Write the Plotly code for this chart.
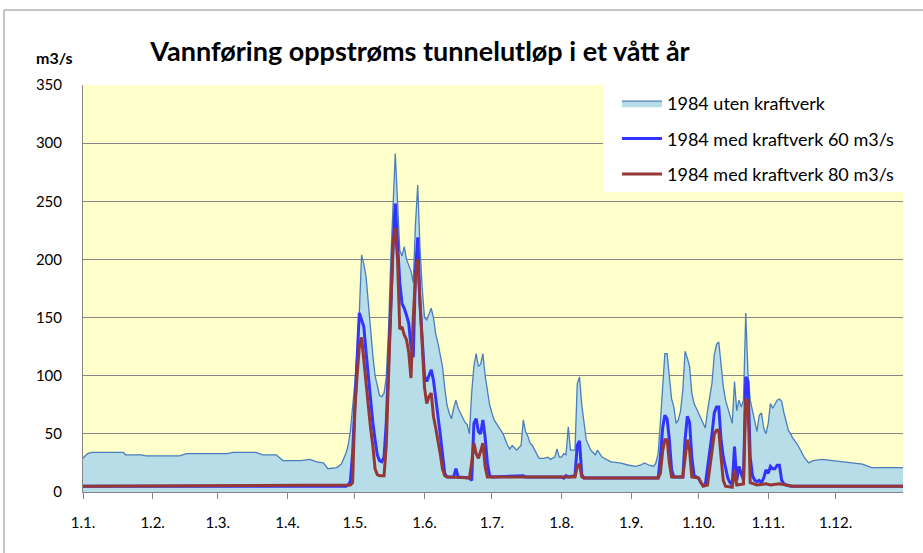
import pandas as pd
import plotly.graph_objects as go

# day of year (0 = 1 Jan 1984) and flow in m3/s
uten_dag = [0, 2, 4, 18, 19, 26, 28, 43, 46, 64, 67, 77, 80, 86, 89, 97, 101, 104, 107, 109,
            113, 115, 117, 118, 119, 120, 121, 122, 123, 124, 125, 126, 127, 128, 129, 130, 131, 132, 133, 134,
            135, 136, 137, 138, 139, 140, 141, 142, 143, 144, 145, 146, 147, 148, 149, 150, 151, 152, 153, 154,
            155, 156, 157, 158, 159, 160, 161, 162, 163, 164, 165, 166, 167, 168, 169, 170, 171, 172, 173, 174,
            175, 176, 177, 178, 179, 180, 181, 182, 183, 184, 185, 186, 187, 188, 189, 190, 191, 192, 193, 194,
            195, 196, 197, 198, 199, 200, 201, 202, 203, 205, 207, 208, 210, 211, 212, 213, 214, 215, 216, 217,
            219, 220, 221, 222, 223, 224, 226, 227, 228, 229, 230, 231, 235, 239, 243, 246, 248, 250, 252, 254,
            255, 256, 257, 258, 259, 260, 261, 262, 263, 264, 265, 266, 267, 268, 269, 270, 271, 272, 273, 274,
            275, 276, 277, 278, 279, 280, 281, 282, 283, 284, 285, 286, 287, 288, 289, 290, 291, 292, 293, 294,
            295, 296, 297, 298, 299, 300, 301, 302, 303, 304, 305, 306, 307, 308, 309, 310, 311, 312, 313, 314,
            315, 316, 318, 320, 321, 323, 325, 329, 333, 338, 342, 347, 351, 365]
uten_kraftverk = [29, 33, 34, 34, 32, 32, 31, 31, 33, 33, 34, 34, 32, 32, 27, 27, 28, 26, 25, 20,
                  21, 24, 33, 40, 52, 70, 94, 120, 154, 204, 196, 185, 160, 140, 118, 100, 90, 83, 82, 85,
                  99, 140, 200, 250, 291, 250, 208, 203, 211, 200, 195, 190, 180, 231, 264, 210, 175, 150, 148, 153,
                  158, 150, 136, 128, 118, 108, 90, 75, 68, 63, 72, 79, 72, 68, 63, 60, 58, 50, 85, 108,
                  119, 108, 110, 119, 100, 88, 75, 68, 62, 59, 56, 53, 50, 45, 40, 37, 40, 38, 36, 38,
                  40, 62, 52, 48, 42, 40, 36, 32, 29, 29, 30, 28, 30, 37, 30, 30, 33, 32, 56, 36,
                  36, 93, 99, 75, 60, 45, 36, 34, 32, 36, 33, 30, 26, 25, 23, 22, 23, 25, 23, 22,
                  25, 33, 60, 88, 119, 119, 96, 80, 73, 59, 62, 70, 88, 121, 115, 108, 85, 76, 72, 68,
                  63, 60, 55, 70, 82, 94, 118, 127, 129, 110, 91, 79, 72, 65, 59, 95, 70, 79, 73, 79,
                  154, 102, 79, 70, 62, 52, 66, 68, 55, 50, 59, 76, 72, 75, 79, 80, 78, 68, 59, 53,
                  50, 46, 41, 33, 30, 25, 27, 28, 27, 26, 25, 24, 21, 21]

med60_dag = [0, 117, 118, 119, 120, 121, 122, 123, 124, 125, 126, 127, 128, 129, 130, 131, 132, 133, 134, 135,
             136, 137, 138, 139, 140, 141, 142, 143, 144, 145, 146, 147, 148, 149, 150, 151, 152, 153, 154, 155,
             156, 157, 158, 159, 160, 161, 162, 165, 166, 167, 172, 173, 174, 175, 176, 177, 178, 179, 180, 181,
             182, 196, 197, 213, 214, 215, 216, 219, 220, 221, 222, 223, 256, 257, 258, 259, 260, 261, 262, 263,
             267, 268, 269, 270, 271, 272, 273, 274, 275, 276, 277, 278, 279, 280, 281, 282, 283, 284, 285, 286,
             287, 288, 289, 290, 291, 292, 293, 294, 295, 296, 297, 298, 299, 300, 301, 302, 303, 304, 305, 306,
             307, 308, 309, 310, 311, 312, 313, 315, 365]
med_kraftverk_60 = [5, 5, 6, 9, 33, 70, 105, 154, 148, 142, 120, 100, 76, 60, 45, 32, 27, 26, 30, 60,
                    110, 162, 210, 248, 215, 180, 162, 158, 152, 145, 125, 116, 190, 219, 162, 125, 100, 95, 100, 105,
                    96, 82, 65, 50, 33, 16, 13, 13, 20, 13, 12, 10, 59, 63, 52, 50, 62, 47, 25, 14,
                    13, 14, 13, 13, 12, 14, 13, 14, 40, 44, 15, 12, 12, 30, 55, 66, 63, 45, 19, 13,
                    13, 45, 65, 60, 30, 14, 13, 12, 8, 6, 6, 20, 35, 50, 68, 73, 73, 45, 30, 22,
                    12, 8, 6, 39, 10, 22, 16, 10, 99, 95, 30, 14, 10, 9, 10, 8, 12, 19, 16, 22,
                    20, 20, 23, 23, 10, 7, 6, 5, 5]

med80_dag = [0, 119, 120, 121, 122, 123, 124, 125, 126, 127, 128, 129, 130, 131, 132, 134, 135, 136, 137, 138,
             139, 140, 141, 142, 143, 144, 145, 146, 147, 148, 149, 150, 151, 152, 153, 154, 155, 156, 157, 158,
             159, 160, 161, 162, 172, 173, 174, 175, 176, 177, 178, 179, 180, 219, 220, 221, 222, 223, 256, 257,
             258, 259, 260, 261, 262, 267, 268, 269, 270, 271, 274, 275, 276, 278, 279, 280, 281, 282, 283, 284,
             285, 286, 288, 289, 290, 291, 294, 295, 296, 297, 300, 304, 306, 310, 313, 316, 365]
med_kraftverk_80 = [5, 6, 8, 70, 100, 125, 133, 113, 95, 76, 55, 40, 20, 15, 14, 14, 40, 100, 162, 214,
                    227, 200, 140, 142, 135, 131, 120, 98, 150, 185, 200, 162, 120, 90, 76, 82, 85, 65, 55, 45,
                    33, 20, 14, 13, 12, 25, 42, 33, 29, 35, 42, 22, 13, 13, 22, 24, 13, 12, 12, 16,
                    35, 45, 45, 25, 13, 13, 30, 45, 36, 13, 12, 8, 5, 6, 22, 39, 50, 53, 53, 30,
                    10, 5, 4, 4, 19, 6, 7, 79, 79, 8, 6, 7, 6, 7, 6, 5, 5]

start = pd.Timestamp("1984-01-01")
def datoer(dager):
    return start + pd.to_timedelta(dager, unit="D")

font = "Lato, Calibri, sans-serif"

fig = go.Figure()
fig.add_trace(go.Scatter(x=datoer(uten_dag), y=uten_kraftverk, name="1984 uten kraftverk",
                         mode="lines", fill="tozeroy", fillcolor="#B7DDE8",
                         line=dict(color="#4A7EBB", width=1.3), legendgroup="a"))
fig.add_trace(go.Scatter(x=datoer(med60_dag), y=med_kraftverk_60, name="1984 med kraftverk 60 m3/s",
                         mode="lines", line=dict(color="#3333FF", width=3), legendgroup="b"))
fig.add_trace(go.Scatter(x=datoer(med80_dag), y=med_kraftverk_80, name="1984 med kraftverk 80 m3/s",
                         mode="lines", line=dict(color="#953735", width=3), legendgroup="c"))

# outer chart border (top and left visible)
fig.add_shape(type="rect", xref="paper", yref="paper",
              x0=(4 - 83) / 820, x1=(940 - 83) / 820, y0=(492 - 570) / 407, y1=(492 - 10) / 407,
              line=dict(color="#8C8C8C", width=1), fillcolor="rgba(0,0,0,0)", layer="below")
# white legend box
fig.add_shape(type="rect", xref="paper", yref="paper",
              x0=(603 - 83) / 820, x1=1, y0=(492 - 192) / 407, y1=1,
              line=dict(width=0), fillcolor="white", layer="above")

fig.add_annotation(text="<b>m3/s</b>", xref="paper", yref="paper",
                   x=(54 - 83) / 820, y=(492 - 58) / 407, xanchor="center", yanchor="middle",
                   showarrow=False, font=dict(family=font, size=16, color="black"))

fig.update_layout(
    width=923, height=553,
    margin=dict(l=83, r=20, t=85, b=61),
    paper_bgcolor="white", plot_bgcolor="#FFFFCC",
    font=dict(family=font, size=15, color="black"),
    title=dict(text="<b>Vannføring oppstrøms tunnelutløp i et vått år</b>",
               x=420 / 923, xanchor="center", y=1 - 52 / 553, yanchor="middle",
               font=dict(family=font, size=27, color="black")),
    legend=dict(x=(617 - 83) / 820, y=1, xanchor="left", yanchor="top",
                bgcolor="rgba(0,0,0,0)", borderwidth=0, font=dict(family=font, size=18),
                tracegroupgap=9, itemwidth=40),
    showlegend=True,
)
fig.update_xaxes(type="date", range=["1984-01-01", "1984-12-31"],
                 dtick="M1", tick0="1984-01-01", tickformat="%-d.%-m.",
                 showgrid=False, ticks="outside", ticklen=6, tickcolor="#868686",
                 showline=True, linecolor="#868686", linewidth=1,
                 ticklabelstandoff=11, tickfont=dict(size=15))
fig.update_yaxes(range=[0, 350], dtick=50, showgrid=True, gridcolor="#868686", gridwidth=1.3,
                 showline=True, linecolor="#868686", linewidth=1, zeroline=False,
                 ticks="", ticklabelstandoff=17, tickfont=dict(size=15))

# drop the default 8px page margin so the figure sits at the window corner
fig.write_html("out.html", config={"displayModeBar": False},
               post_script="document.body.style.margin='0';")
